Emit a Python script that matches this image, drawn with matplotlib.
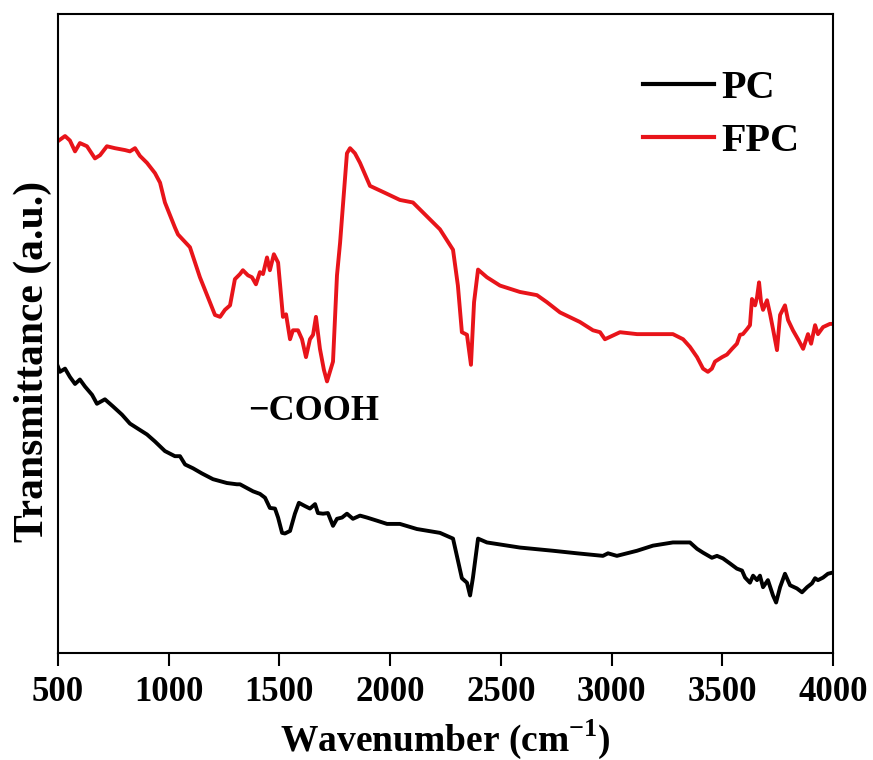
import numpy as np
import matplotlib.pyplot as plt

# FTIR spectra (transmittance in arbitrary units)
fpc_wn = [500, 532, 554, 577, 599, 631, 667, 690, 721, 757,
          803, 825, 848, 870, 902, 938, 961, 983, 1028, 1042,
          1096, 1141, 1186, 1209, 1232, 1254, 1277, 1299, 1322, 1335,
          1358, 1376, 1394, 1412, 1426, 1444, 1457, 1475, 1494, 1516,
          1530, 1548, 1561, 1584, 1602, 1620, 1638, 1652, 1665, 1683,
          1701, 1715, 1728, 1742, 1760, 1774, 1783, 1805, 1819, 1841,
          1864, 1909, 1977, 2044, 2103, 2135, 2225, 2284, 2306, 2324,
          2347, 2365, 2379, 2397, 2437, 2496, 2586, 2663, 2708, 2767,
          2857, 2916, 2948, 2970, 3038, 3115, 3187, 3277, 3323, 3354,
          3386, 3413, 3435, 3453, 3467, 3499, 3521, 3544, 3566, 3580,
          3593, 3612, 3625, 3634, 3648, 3657, 3666, 3675, 3684, 3702,
          3716, 3729, 3747, 3761, 3783, 3797, 3819, 3842, 3865, 3887,
          3901, 3919, 3932, 3955, 3986, 4000]
fpc_t = [80.1, 80.9, 80.2, 78.5, 79.8, 79.3, 77.4, 77.9, 79.3, 79.0,
         78.7, 78.5, 79.0, 77.8, 76.7, 75.1, 73.6, 70.5, 66.6, 65.5,
         63.5, 58.8, 54.9, 52.9, 52.6, 53.7, 54.4, 58.5, 59.3, 59.9,
         59.1, 58.8, 57.7, 59.6, 59.3, 61.9, 59.9, 62.4, 61.1, 52.6,
         53.0, 49.1, 50.5, 50.5, 49.1, 46.3, 49.1, 49.8, 52.6, 47.6,
         44.3, 42.5, 44.0, 45.6, 59.1, 64.2, 68.3, 78.2, 79.0, 78.2,
         76.7, 73.1, 72.0, 70.9, 70.5, 69.4, 66.3, 63.1, 57.5, 50.2,
         49.8, 45.1, 54.9, 60.0, 58.8, 57.5, 56.5, 56.0, 54.9, 53.3,
         51.8, 50.5, 50.2, 49.1, 50.2, 49.9, 49.9, 49.9, 49.1, 47.9,
         46.3, 44.5, 44.0, 44.5, 45.6, 46.3, 46.7, 47.6, 48.4, 49.8,
         49.9, 50.7, 51.3, 55.4, 54.4, 55.7, 58.0, 54.9, 53.7, 55.2,
         53.0, 50.7, 47.4, 52.9, 54.4, 52.1, 50.5, 49.1, 47.6, 49.9,
         48.4, 51.3, 49.9, 51.0, 51.5, 51.5]

pc_wn = [500, 509, 532, 554, 577, 599, 622, 654, 676, 712,
         748, 789, 825, 861, 902, 938, 983, 1028, 1051, 1074,
         1110, 1150, 1200, 1263, 1308, 1322, 1354, 1381, 1412, 1435,
         1457, 1480, 1494, 1512, 1525, 1548, 1570, 1588, 1615, 1638,
         1661, 1674, 1697, 1719, 1742, 1760, 1783, 1805, 1832, 1864,
         1895, 1941, 1986, 2044, 2121, 2225, 2284, 2306, 2324, 2347,
         2361, 2374, 2397, 2437, 2586, 2735, 2844, 2961, 2984, 3024,
         3115, 3187, 3277, 3354, 3386, 3413, 3453, 3476, 3503, 3535,
         3566, 3589, 3603, 3625, 3639, 3657, 3670, 3684, 3706, 3729,
         3743, 3761, 3783, 3806, 3837, 3860, 3883, 3905, 3919, 3932,
         3955, 3977, 4000]
pc_t = [44.8, 44.0, 44.5, 43.2, 42.1, 42.8, 41.7, 40.4, 39.0, 39.7,
        38.6, 37.3, 35.9, 35.1, 34.2, 33.1, 31.6, 30.8, 30.8, 29.5,
        28.9, 28.1, 27.2, 26.6, 26.4, 26.4, 25.8, 25.3, 24.9, 24.3,
        22.7, 22.6, 21.2, 18.8, 18.7, 19.1, 21.8, 23.5, 23.0, 22.6,
        23.3, 21.9, 21.8, 21.9, 19.9, 21.0, 21.2, 21.8, 21.0, 21.5,
        21.2, 20.7, 20.2, 20.2, 19.4, 18.8, 17.9, 14.5, 11.7, 11.0,
        9.0, 11.8, 17.9, 17.3, 16.5, 16.0, 15.6, 15.2, 15.6, 15.2,
        16.0, 16.8, 17.3, 17.3, 16.3, 15.7, 14.9, 15.2, 14.8, 14.0,
        13.2, 12.9, 11.8, 11.0, 12.1, 11.4, 12.1, 10.3, 11.4, 9.0,
        7.9, 10.3, 12.4, 10.6, 10.1, 9.5, 10.3, 10.9, 11.7, 11.4,
        11.8, 12.4, 12.6]

plt.rcParams["font.family"] = "Liberation Serif"
plt.rcParams["font.weight"] = "bold"
plt.rcParams["mathtext.fontset"] = "custom"
plt.rcParams["mathtext.rm"] = "Liberation Serif:bold"
plt.rcParams["mathtext.bf"] = "Liberation Serif:bold"

fig = plt.figure(figsize=(8.73, 7.6), dpi=100)
ax = fig.add_axes([0.0664, 0.1408, 0.8878, 0.8408])

ax.plot(pc_wn, pc_t, color="black", lw=2.8, label="PC")
ax.plot(fpc_wn, fpc_t, color="#e8141a", lw=2.8, label="FPC")

ax.set_xlim(500, 4000)
ax.set_ylim(0, 100)
ax.set_xticks(np.arange(500, 4001, 500))
ax.set_yticks([])
ax.tick_params(axis="x", direction="out", length=9.5, width=1.5, labelsize=25, pad=7)
for s in ax.spines.values():
    s.set_linewidth(1.5)

ax.set_xlabel("Wavenumber (cm$^{\\mathregular{-1}}$)", fontsize=27, fontweight="bold", labelpad=6)
ax.set_ylabel("Transmittance (a.u.)", fontsize=30, fontweight="bold")
ax.yaxis.set_label_coords(-0.008, 0.457)

ax.text(1656, 37.8, "\u2212COOH", fontsize=26, fontweight="bold", ha="center", va="center")

leg = ax.legend(loc="upper left", bbox_to_anchor=(0.755, 0.912), frameon=False,
                fontsize=29, handlelength=1.75, handletextpad=0.2, labelspacing=0.375,
                borderpad=0, borderaxespad=0)
for line in leg.get_lines():
    line.set_linewidth(3)

fig.savefig("out.png", dpi=100)
